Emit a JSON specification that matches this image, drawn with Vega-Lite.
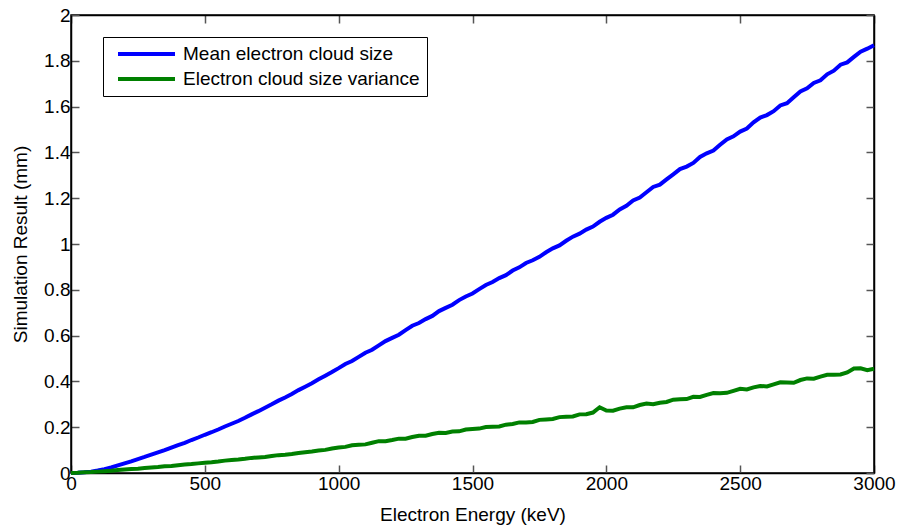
{
  "$schema": "https://vega.github.io/schema/vega-lite/v6.json",
  "autosize": "none",
  "width": 803,
  "height": 458,
  "padding": {"left": 71, "top": 15, "right": 28, "bottom": 56},
  "background": "white",
  "config": {
    "font": "Liberation Sans",
    "view": {"stroke": "black", "strokeWidth": 1.5},
    "axis": {
      "labelFont": "Liberation Sans",
      "labelFontSize": 19,
      "labelColor": "black",
      "labelFlush": false,
      "labelOverlap": false,
      "titleFont": "Liberation Sans",
      "titleFontSize": 19,
      "titleFontWeight": "normal",
      "titleColor": "black",
      "grid": false,
      "domainColor": "black",
      "domainWidth": 1.5,
      "tickColor": "#555555",
      "tickWidth": 1.5,
      "tickSize": -8,
      "labelPadding": 9
    },
    "legend": {
      "labelFont": "Liberation Sans",
      "labelFontSize": 19,
      "labelColor": "black",
      "labelLimit": 500
    }
  },
  "data": {
    "values": [
      {"e": 0, "mean": 0.000, "spread": 0.000},
      {"e": 25, "mean": 0.001, "spread": 0.001},
      {"e": 50, "mean": 0.003, "spread": 0.003},
      {"e": 75, "mean": 0.006, "spread": 0.004},
      {"e": 100, "mean": 0.011, "spread": 0.006},
      {"e": 125, "mean": 0.017, "spread": 0.008},
      {"e": 150, "mean": 0.024, "spread": 0.010},
      {"e": 175, "mean": 0.033, "spread": 0.013},
      {"e": 200, "mean": 0.042, "spread": 0.015},
      {"e": 225, "mean": 0.051, "spread": 0.017},
      {"e": 250, "mean": 0.061, "spread": 0.019},
      {"e": 275, "mean": 0.070, "spread": 0.022},
      {"e": 300, "mean": 0.080, "spread": 0.024},
      {"e": 325, "mean": 0.090, "spread": 0.026},
      {"e": 350, "mean": 0.100, "spread": 0.029},
      {"e": 375, "mean": 0.111, "spread": 0.031},
      {"e": 400, "mean": 0.122, "spread": 0.034},
      {"e": 425, "mean": 0.132, "spread": 0.037},
      {"e": 450, "mean": 0.144, "spread": 0.039},
      {"e": 475, "mean": 0.155, "spread": 0.042},
      {"e": 500, "mean": 0.167, "spread": 0.045},
      {"e": 525, "mean": 0.178, "spread": 0.047},
      {"e": 550, "mean": 0.190, "spread": 0.050},
      {"e": 575, "mean": 0.203, "spread": 0.054},
      {"e": 600, "mean": 0.215, "spread": 0.057},
      {"e": 625, "mean": 0.227, "spread": 0.059},
      {"e": 650, "mean": 0.241, "spread": 0.062},
      {"e": 675, "mean": 0.256, "spread": 0.066},
      {"e": 700, "mean": 0.270, "spread": 0.068},
      {"e": 725, "mean": 0.285, "spread": 0.070},
      {"e": 750, "mean": 0.300, "spread": 0.074},
      {"e": 775, "mean": 0.316, "spread": 0.078},
      {"e": 800, "mean": 0.330, "spread": 0.080},
      {"e": 825, "mean": 0.345, "spread": 0.083},
      {"e": 850, "mean": 0.362, "spread": 0.087},
      {"e": 875, "mean": 0.377, "spread": 0.091},
      {"e": 900, "mean": 0.392, "spread": 0.094},
      {"e": 925, "mean": 0.409, "spread": 0.098},
      {"e": 950, "mean": 0.425, "spread": 0.101},
      {"e": 975, "mean": 0.441, "spread": 0.107},
      {"e": 1000, "mean": 0.458, "spread": 0.111},
      {"e": 1025, "mean": 0.476, "spread": 0.114},
      {"e": 1050, "mean": 0.489, "spread": 0.121},
      {"e": 1075, "mean": 0.507, "spread": 0.123},
      {"e": 1100, "mean": 0.525, "spread": 0.125},
      {"e": 1125, "mean": 0.538, "spread": 0.132},
      {"e": 1150, "mean": 0.557, "spread": 0.139},
      {"e": 1175, "mean": 0.576, "spread": 0.139},
      {"e": 1200, "mean": 0.590, "spread": 0.144},
      {"e": 1225, "mean": 0.604, "spread": 0.150},
      {"e": 1250, "mean": 0.624, "spread": 0.150},
      {"e": 1275, "mean": 0.643, "spread": 0.157},
      {"e": 1300, "mean": 0.655, "spread": 0.163},
      {"e": 1325, "mean": 0.672, "spread": 0.163},
      {"e": 1350, "mean": 0.686, "spread": 0.170},
      {"e": 1375, "mean": 0.707, "spread": 0.176},
      {"e": 1400, "mean": 0.721, "spread": 0.175},
      {"e": 1425, "mean": 0.735, "spread": 0.181},
      {"e": 1450, "mean": 0.755, "spread": 0.182},
      {"e": 1475, "mean": 0.771, "spread": 0.190},
      {"e": 1500, "mean": 0.784, "spread": 0.192},
      {"e": 1525, "mean": 0.803, "spread": 0.194},
      {"e": 1550, "mean": 0.821, "spread": 0.201},
      {"e": 1575, "mean": 0.834, "spread": 0.202},
      {"e": 1600, "mean": 0.851, "spread": 0.203},
      {"e": 1625, "mean": 0.864, "spread": 0.211},
      {"e": 1650, "mean": 0.884, "spread": 0.214},
      {"e": 1675, "mean": 0.898, "spread": 0.221},
      {"e": 1700, "mean": 0.917, "spread": 0.221},
      {"e": 1725, "mean": 0.929, "spread": 0.223},
      {"e": 1750, "mean": 0.944, "spread": 0.232},
      {"e": 1775, "mean": 0.964, "spread": 0.234},
      {"e": 1800, "mean": 0.981, "spread": 0.236},
      {"e": 1825, "mean": 0.994, "spread": 0.244},
      {"e": 1850, "mean": 1.014, "spread": 0.246},
      {"e": 1875, "mean": 1.032, "spread": 0.247},
      {"e": 1900, "mean": 1.045, "spread": 0.256},
      {"e": 1925, "mean": 1.063, "spread": 0.257},
      {"e": 1950, "mean": 1.076, "spread": 0.264},
      {"e": 1975, "mean": 1.097, "spread": 0.287},
      {"e": 2000, "mean": 1.114, "spread": 0.273},
      {"e": 2025, "mean": 1.128, "spread": 0.272},
      {"e": 2050, "mean": 1.151, "spread": 0.281},
      {"e": 2075, "mean": 1.167, "spread": 0.287},
      {"e": 2100, "mean": 1.190, "spread": 0.287},
      {"e": 2125, "mean": 1.203, "spread": 0.297},
      {"e": 2150, "mean": 1.226, "spread": 0.303},
      {"e": 2175, "mean": 1.249, "spread": 0.300},
      {"e": 2200, "mean": 1.259, "spread": 0.307},
      {"e": 2225, "mean": 1.282, "spread": 0.310},
      {"e": 2250, "mean": 1.304, "spread": 0.320},
      {"e": 2275, "mean": 1.327, "spread": 0.322},
      {"e": 2300, "mean": 1.338, "spread": 0.323},
      {"e": 2325, "mean": 1.354, "spread": 0.333},
      {"e": 2350, "mean": 1.380, "spread": 0.332},
      {"e": 2375, "mean": 1.396, "spread": 0.341},
      {"e": 2400, "mean": 1.408, "spread": 0.349},
      {"e": 2425, "mean": 1.433, "spread": 0.348},
      {"e": 2450, "mean": 1.457, "spread": 0.350},
      {"e": 2475, "mean": 1.470, "spread": 0.359},
      {"e": 2500, "mean": 1.491, "spread": 0.368},
      {"e": 2525, "mean": 1.504, "spread": 0.365},
      {"e": 2550, "mean": 1.531, "spread": 0.374},
      {"e": 2575, "mean": 1.552, "spread": 0.380},
      {"e": 2600, "mean": 1.563, "spread": 0.378},
      {"e": 2625, "mean": 1.580, "spread": 0.387},
      {"e": 2650, "mean": 1.605, "spread": 0.396},
      {"e": 2675, "mean": 1.615, "spread": 0.395},
      {"e": 2700, "mean": 1.641, "spread": 0.394},
      {"e": 2725, "mean": 1.666, "spread": 0.406},
      {"e": 2750, "mean": 1.680, "spread": 0.413},
      {"e": 2775, "mean": 1.703, "spread": 0.412},
      {"e": 2800, "mean": 1.715, "spread": 0.421},
      {"e": 2825, "mean": 1.741, "spread": 0.429},
      {"e": 2850, "mean": 1.757, "spread": 0.429},
      {"e": 2875, "mean": 1.783, "spread": 0.430},
      {"e": 2900, "mean": 1.793, "spread": 0.439},
      {"e": 2925, "mean": 1.817, "spread": 0.456},
      {"e": 2950, "mean": 1.840, "spread": 0.457},
      {"e": 2975, "mean": 1.853, "spread": 0.449},
      {"e": 3000, "mean": 1.868, "spread": 0.455}
    ]
  },
  "transform": [
    {"fold": ["mean", "spread"], "as": ["series", "value"]}
  ],
  "layer": [
    {
      "mark": {"type": "line", "strokeWidth": 4, "interpolate": "linear"},
      "encoding": {
        "x": {
          "field": "e",
          "type": "quantitative",
          "scale": {"domain": [0, 3000], "nice": false},
          "axis": {"title": "Electron Energy (keV)", "values": [0, 500, 1000, 1500, 2000, 2500, 3000], "format": "d", "titlePadding": 12}
        },
        "y": {
          "field": "value",
          "type": "quantitative",
          "scale": {"domain": [0, 2], "nice": false},
          "axis": {"title": "Simulation Result (mm)", "values": [0, 0.2, 0.4, 0.6, 0.8, 1, 1.2, 1.4, 1.6, 1.8, 2], "format": "~g", "titlePadding": 13}
        },
        "color": {
          "field": "series",
          "type": "nominal",
          "scale": {"domain": ["mean", "spread"], "range": ["#0000ff", "#008000"]},
          "legend": {
            "title": null,
            "orient": "none",
            "legendX": 32,
            "legendY": 22,
            "fillColor": "white",
            "strokeColor": "black",
            "padding": 7,
            "symbolType": "stroke",
            "symbolSize": 3249,
            "symbolStrokeWidth": 4,
            "symbolOffset": 6,
            "labelOffset": 6,
            "clipHeight": 20,
            "rowPadding": 5,
            "labelExpr": "datum.value == 'mean' ? 'Mean electron cloud size' : 'Electron cloud size variance'"
          }
        }
      }
    },
    {
      "mark": {"type": "line", "opacity": 0},
      "encoding": {
        "x": {
          "field": "e",
          "type": "quantitative",
          "scale": {"domain": [0, 3000], "nice": false},
          "axis": {"orient": "top", "title": null, "labels": false, "values": [0, 500, 1000, 1500, 2000, 2500, 3000]}
        },
        "y": {
          "field": "value",
          "type": "quantitative",
          "scale": {"domain": [0, 2], "nice": false},
          "axis": {"orient": "right", "title": null, "labels": false, "values": [0, 0.2, 0.4, 0.6, 0.8, 1, 1.2, 1.4, 1.6, 1.8, 2]}
        },
        "detail": {"field": "series", "type": "nominal"}
      }
    }
  ],
  "resolve": {
    "scale": {"x": "independent", "y": "independent"},
    "axis": {"x": "independent", "y": "independent"}
  }
}
